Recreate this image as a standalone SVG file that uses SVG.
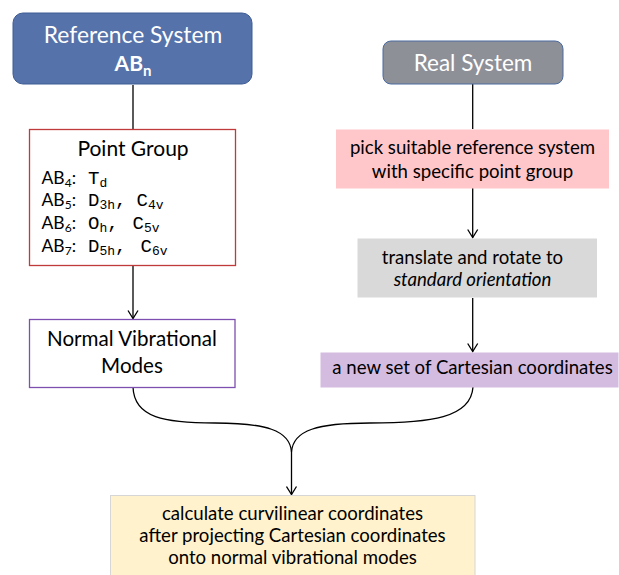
<svg xmlns="http://www.w3.org/2000/svg" width="619" height="575" viewBox="0 0 619 575">
  <style>
    .t { font-family: Lato, "Open Sans", "Liberation Sans", sans-serif; fill: #000; }
    .b { font-size: 18.6px; }
    .w { fill: #fff; }
    .m { font-family: "Liberation Mono", "DejaVu Sans Mono", monospace; fill: #000; font-size: 19px; }
    .s { font-size: 13px; }
    .edge { fill: none; stroke: #000; stroke-width: 1.3; }
  </style>
  <defs>
    <marker id="arrow" viewBox="0 0 12 12" refX="11" refY="6" markerWidth="12" markerHeight="12" markerUnits="userSpaceOnUse" orient="auto">
      <path d="M3,1 L11,6 L3,11" fill="none" stroke="#000" stroke-width="1.3"/>
    </marker>
  </defs>

  <rect width="619" height="575" fill="#fff"/>

  <!-- connectors -->
  <g id="connectors">
    <line class="edge" x1="133" y1="85" x2="133" y2="129"/>
    <line class="edge" x1="133" y1="266" x2="133" y2="318.5" marker-end="url(#arrow)"/>
    <line class="edge" x1="472.7" y1="84" x2="472.7" y2="129"/>
    <line class="edge" x1="472.7" y1="188" x2="472.7" y2="237.5" marker-end="url(#arrow)"/>
    <line class="edge" x1="472.7" y1="298" x2="472.7" y2="351.5" marker-end="url(#arrow)"/>
    <path class="edge" d="M133,387 C134,418 165,423 215,423 C265,423 290,430 291.5,452"/>
    <path class="edge" d="M473,387 C471,418 430,423 370,423 C318,423 293,430 291.5,452"/>
    <line class="edge" x1="291.5" y1="452" x2="291.5" y2="494.5" marker-end="url(#arrow)"/>
  </g>

  <!-- Reference System -->
  <g id="reference-system">
    <rect x="13" y="13" width="239" height="71" rx="10" fill="#5572AA" stroke="#3E5C94" stroke-width="1"/>
    <text class="t w" x="133" y="43" font-size="22.8" text-anchor="middle">Reference System</text>
    <text class="t w" x="133" y="71" font-size="21" font-weight="bold" text-anchor="middle">AB<tspan font-size="15" dy="5">n</tspan></text>
  </g>

  <!-- Point Group -->
  <g id="point-group">
    <rect x="29.5" y="129.5" width="206" height="136" fill="#fff" stroke="#C0393B" stroke-width="1.3"/>
    <text class="t" x="133" y="156" font-size="21" text-anchor="middle">Point Group</text>
    <text class="t" font-size="17.5" x="41.5" y="184">AB<tspan font-size="12" dy="3">4</tspan><tspan dy="-3">:</tspan></text>
    <text class="m" x="88" y="184">T<tspan class="s" dy="3">d</tspan></text>
    <text class="t" font-size="17.5" x="41.5" y="206">AB<tspan font-size="12" dy="3">5</tspan><tspan dy="-3">:</tspan></text>
    <text class="m" x="88" y="206">D<tspan class="s" dy="3">3h</tspan><tspan dy="-3">,</tspan></text>
    <text class="m" x="136.5" y="206">C<tspan class="s" dy="3">4v</tspan></text>
    <text class="t" font-size="17.5" x="41.5" y="229">AB<tspan font-size="12" dy="3">6</tspan><tspan dy="-3">:</tspan></text>
    <text class="m" x="88" y="229">O<tspan class="s" dy="3">h</tspan><tspan dy="-3">,</tspan></text>
    <text class="m" x="132.5" y="229">C<tspan class="s" dy="3">5v</tspan></text>
    <text class="t" font-size="17.5" x="41.5" y="252">AB<tspan font-size="12" dy="3">7</tspan><tspan dy="-3">:</tspan></text>
    <text class="m" x="88" y="252">D<tspan class="s" dy="3">5h</tspan><tspan dy="-3">,</tspan></text>
    <text class="m" x="140.5" y="252">C<tspan class="s" dy="3">6v</tspan></text>
  </g>

  <!-- Normal Vibrational Modes -->
  <g id="normal-modes">
    <rect x="29.5" y="319.5" width="205.5" height="68" fill="#fff" stroke="#7F4FB0" stroke-width="1.3"/>
    <text class="t" x="132" y="346" font-size="20.6" text-anchor="middle">Normal Vibrational</text>
    <text class="t" x="132" y="373" font-size="20.6" text-anchor="middle">Modes</text>
  </g>

  <!-- Real System -->
  <g id="real-system">
    <rect x="383" y="41" width="180" height="43" rx="8" fill="#8E9098" stroke="#4A6AA0" stroke-width="1"/>
    <text class="t w" x="473" y="71" font-size="22.5" text-anchor="middle">Real System</text>
  </g>

  <!-- pick suitable reference system -->
  <g id="pick-reference">
    <rect x="336" y="129.5" width="273" height="59" fill="#FFC7C9"/>
    <text class="t b" x="472.5" y="153.5" text-anchor="middle">pick suitable reference system</text>
    <text class="t b" x="472.5" y="178" text-anchor="middle">with specific point group</text>
  </g>

  <!-- translate and rotate -->
  <g id="standard-orientation">
    <rect x="357.5" y="238.5" width="239.5" height="59" fill="#D9D9D9"/>
    <text class="t b" x="472.5" y="263.5" text-anchor="middle">translate and rotate to</text>
    <text class="t b" x="472.5" y="286" font-style="italic" text-anchor="middle">standard orientation</text>
  </g>

  <!-- new Cartesian coordinates -->
  <g id="cartesian">
    <rect x="320.5" y="352.5" width="298" height="35" fill="#D4BCE0"/>
    <text class="t b" x="472.5" y="374" text-anchor="middle">a new set of Cartesian coordinates</text>
  </g>

  <!-- curvilinear coordinates -->
  <g id="curvilinear">
    <rect x="110.5" y="495.5" width="364.5" height="85" fill="#FFF2CC" stroke="#D6D6D6" stroke-width="1"/>
    <text class="t b" x="292.5" y="520" text-anchor="middle">calculate curvilinear coordinates</text>
    <text class="t b" x="292.5" y="542" text-anchor="middle">after projecting Cartesian coordinates</text>
    <text class="t b" x="292.5" y="563.5" text-anchor="middle">onto normal vibrational modes</text>
  </g>
</svg>
